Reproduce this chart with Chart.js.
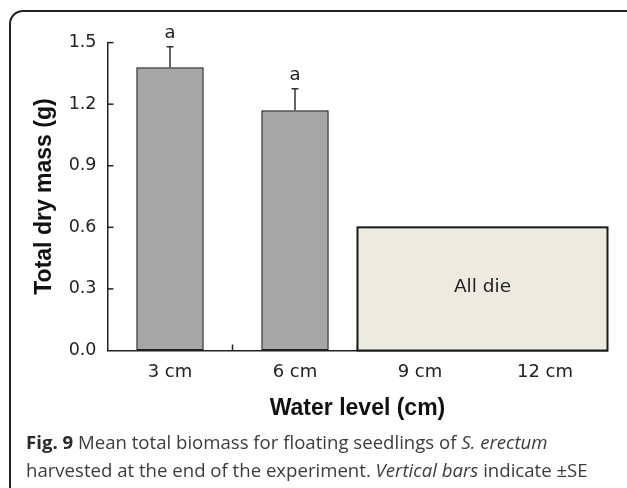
<!DOCTYPE html>
<html>
<head>
<meta charset="utf-8">
<script src="https://cdn.jsdelivr.net/npm/chart.js@4/dist/chart.umd.min.js"></script>
<style>
  html, body { margin: 0; padding: 0; background: #fff; }
  body { width: 627px; height: 488px; position: relative; overflow: hidden; }
  #frame { position: absolute; left: 9px; top: 10px; width: 640px; height: 500px;
           border: 2px solid #222; border-radius: 14px; box-sizing: border-box; }
  #wrap { position: absolute; left: 0; top: 0; width: 627px; height: 488px; }
  #caption { position: absolute; left: 26px; top: 428px; width: 600px;
             font-family: "Open Sans", Lato, sans-serif; font-size: 18.6px; line-height: 28px;
             color: #3c3c3c; white-space: nowrap; }
  #caption b { color: #2a2a2a; }
</style>
</head>
<body>
<div id="frame"></div>
<div id="wrap"><canvas id="c" width="627" height="488"></canvas></div>
<div id="caption"><b>Fig. 9</b> Mean total biomass for floating seedlings of <i>S. erectum</i><br>harvested at the end of the experiment. <i>Vertical bars</i> indicate ±SE</div>
<script>
const categories = ["3 cm", "6 cm", "9 cm", "12 cm"];
const meanMass = [1.38, 1.17, null, null];
const seMass = [0.10, 0.105, null, null];
const sigLetters = ["a", "a", "", ""];
const yTicks = [0.0, 0.3, 0.6, 0.9, 1.2, 1.5];
const deadCategories = ["9 cm", "12 cm"];
const deadBoxHeight = 0.6;
const deadLabel = "All die";

const tickFont = { family: "'DejaVu Sans', sans-serif", size: 17.5 };
const titleFont = { family: "'Liberation Sans', Arial, sans-serif", size: 23, weight: "bold" };

const extrasPlugin = {
  id: "extras",
  beforeDatasetsDraw(chart) {
    const { ctx, scales: { x, y } } = chart;
    ctx.save();
    ctx.strokeStyle = "#222";
    ctx.lineWidth = 1.5;
    yTicks.forEach(v => {
      if (v === 0) return;
      const py = y.getPixelForValue(v);
      ctx.beginPath();
      ctx.moveTo(x.left, py);
      ctx.lineTo(x.left + 6, py);
      ctx.stroke();
    });
    const half = (x.getPixelForValue(1) - x.getPixelForValue(0)) / 2;
    for (let i = 0; i < categories.length - 1; i++) {
      const px = x.getPixelForValue(i) + half;
      ctx.beginPath();
      ctx.moveTo(px, y.bottom);
      ctx.lineTo(px, y.bottom - 6);
      ctx.stroke();
    }
    ctx.restore();
  },
  afterDatasetsDraw(chart) {
    const { ctx, scales: { x, y } } = chart;
    const meta = chart.getDatasetMeta(0);
    ctx.save();
    meta.data.forEach((bar, i) => {
      if (meanMass[i] == null) return;
      const top = y.getPixelForValue(meanMass[i] + seMass[i]);
      const base = y.getPixelForValue(meanMass[i]);
      ctx.strokeStyle = "#333";
      ctx.lineWidth = 1.5;
      ctx.beginPath();
      ctx.moveTo(bar.x, base);
      ctx.lineTo(bar.x, top);
      ctx.moveTo(bar.x - 3.5, top);
      ctx.lineTo(bar.x + 3.5, top);
      ctx.stroke();
      ctx.fillStyle = "#222";
      ctx.font = "18px 'DejaVu Sans', sans-serif";
      ctx.textAlign = "center";
      ctx.textBaseline = "alphabetic";
      ctx.fillText(sigLetters[i], bar.x, top - 9);
    });
    const half = (x.getPixelForValue(1) - x.getPixelForValue(0)) / 2;
    const i0 = categories.indexOf(deadCategories[0]);
    const i1 = categories.indexOf(deadCategories[deadCategories.length - 1]);
    const left = x.getPixelForValue(i0) - half;
    const right = x.getPixelForValue(i1) + half;
    const top = y.getPixelForValue(deadBoxHeight);
    const bottom = y.getPixelForValue(0);
    ctx.fillStyle = "#edebe0";
    ctx.fillRect(left, top, right - left, bottom - top);
    ctx.strokeStyle = "#1a1a1a";
    ctx.lineWidth = 2;
    ctx.strokeRect(left, top, right - left, bottom - top);
    ctx.fillStyle = "#222";
    ctx.font = "18.5px 'DejaVu Sans', sans-serif";
    ctx.textAlign = "center";
    ctx.textBaseline = "middle";
    ctx.fillText(deadLabel, (left + right) / 2, y.getPixelForValue(0.3) - 2);
    ctx.restore();
  }
};

new Chart(document.getElementById("c"), {
  type: "bar",
  data: {
    labels: categories,
    datasets: [{
      data: meanMass,
      backgroundColor: "#a6a6a6",
      borderColor: "#1e1e1e",
      borderWidth: 1.5,
      borderSkipped: false,
      categoryPercentage: 1.0,
      barPercentage: 0.54
    }]
  },
  options: {
    responsive: false,
    animation: false,
    events: [],
    layout: { padding: { top: 42.6, right: 19.5, bottom: 0, left: 0 } },
    plugins: { legend: { display: false }, tooltip: { enabled: false } },
    scales: {
      x: {
        grid: { display: false, drawTicks: false },
        border: { display: true, color: "#222", width: 1.5 },
        ticks: { color: "#222", font: { ...tickFont, size: 18 }, padding: 11 },
        title: { display: true, text: "Water level (cm)", color: "#111", font: titleFont,
                 padding: { top: 0, bottom: 66 } },
        afterFit(s) { s.height = 137.5; }
      },
      y: {
        min: 0, max: 1.5,
        grid: { display: false, drawTicks: false },
        border: { display: true, color: "#222", width: 1.5 },
        afterBuildTicks(s) { s.ticks = yTicks.map(v => ({ value: v })); },
        ticks: { color: "#222", font: tickFont, padding: 11,
                 callback: v => Number(v).toFixed(1) },
        title: { display: true, text: "Total dry mass (g)", color: "#111", font: titleFont,
                 padding: { top: 31, bottom: 0 } },
        afterFit(s) { s.width = 107.5; }
      }
    }
  },
  plugins: [extrasPlugin]
});
</script>
</body>
</html>
